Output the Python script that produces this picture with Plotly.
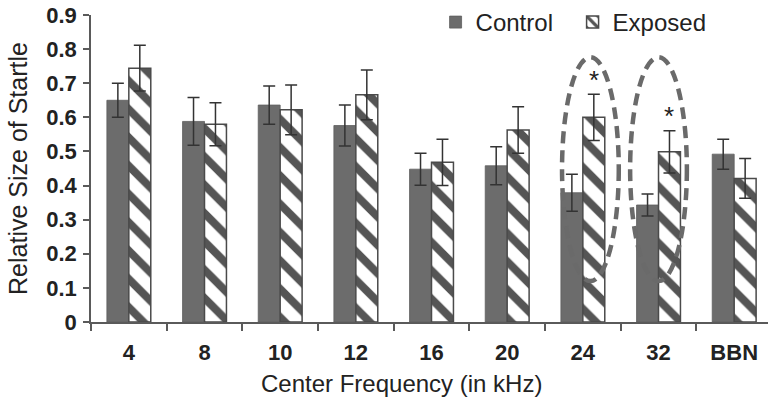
import plotly.graph_objects as go

# Startle response by centre frequency, control vs noise-exposed
categories = ["4", "8", "10", "12", "16", "20", "24", "32", "BBN"]
control = [0.65, 0.588, 0.636, 0.576, 0.448, 0.458, 0.379, 0.343, 0.492]
control_err = [0.05, 0.07, 0.056, 0.06, 0.047, 0.056, 0.054, 0.032, 0.044]
exposed = [0.744, 0.58, 0.622, 0.666, 0.468, 0.563, 0.600, 0.499, 0.421]
exposed_err = [0.067, 0.063, 0.073, 0.073, 0.068, 0.068, 0.068, 0.062, 0.058]
significant = ["24", "32"]
y_ticks = [0, 0.1, 0.2, 0.3, 0.4, 0.5, 0.6, 0.7, 0.8, 0.9]

FONT = "Liberation Sans, Arial, sans-serif"
BAR_GAP = 0.42
AXIS_COLOR = "#5a5a5a"

fig = go.Figure()
fig.add_trace(go.Bar(
    name="Control", x=categories, y=control,
    marker=dict(color="#6c6c6c", line=dict(color="#5e5e5e", width=0.8)),
    error_y=dict(type="data", array=control_err, color="#333333", thickness=1.5, width=6),
))
fig.add_trace(go.Bar(
    name="Exposed", x=categories, y=exposed,
    marker=dict(
        color="white",
        line=dict(color="#4a4a4a", width=1.5),
        pattern=dict(shape="\\", fgcolor="#555555", fgopacity=1, bgcolor="white",
                     size=20, solidity=0.4),
    ),
    error_y=dict(type="data", array=exposed_err, color="#333333", thickness=1.5, width=6),
))

# significance stars above the exposed bars, and dashed ovals round the pairs
half_bar = (1 - BAR_GAP) / 4
oval_shift = {"24": 0.1, "32": 0.0}
for cat in significant:
    i = categories.index(cat)
    fig.add_annotation(
        x=i + half_bar, y=exposed[i] + exposed_err[i] + 0.042, xref="x", yref="y",
        text="*", showarrow=False, yanchor="middle",
        font=dict(family=FONT, size=26, color="#222222"),
    )
    fig.add_shape(
        type="circle", xref="x", yref="y", layer="above",
        x0=i + oval_shift[cat] - 0.375, x1=i + oval_shift[cat] + 0.375,
        y0=0.12, y1=0.776,
        line=dict(color="#6a6a6a", width=4.5, dash="12px,7px"),
    )

fig.add_annotation(
    text="Center Frequency (in kHz)", xref="paper", yref="paper",
    x=0.459, y=-0.199, xanchor="center", yanchor="middle", showarrow=False,
    font=dict(family=FONT, size=24, color="#222222"),
)

fig.update_layout(
    width=768, height=398,
    margin=dict(l=91, r=0, t=15, b=76, autoexpand=False),
    paper_bgcolor="white", plot_bgcolor="white",
    barmode="group", bargap=BAR_GAP, bargroupgap=0,
    font=dict(family=FONT, color="#222222"),
    showlegend=True,
    legend=dict(
        orientation="h", xref="paper", x=0.509, xanchor="left",
        yref="container", y=1.0, yanchor="top",
        font=dict(family=FONT, size=24, color="#222222"),
        bgcolor="rgba(0,0,0,0)", itemwidth=30, entrywidth=92,
    ),
)
fig.update_xaxes(
    type="category", range=[-0.5, 8.447],
    showline=True, linecolor=AXIS_COLOR, linewidth=1.5,
    ticks="outside", tickson="boundaries", ticklen=7, tickcolor=AXIS_COLOR, tickwidth=1.5,
    tickfont=dict(family=FONT, size=22, color="#222222", weight="bold"),
    ticklabelstandoff=10, showgrid=False, zeroline=False,
)
fig.update_yaxes(
    range=[0, 0.9], tickvals=y_ticks, ticktext=[f"{v:g}" for v in y_ticks],
    showline=True, linecolor=AXIS_COLOR, linewidth=1.5,
    ticks="outside", ticklen=6, tickcolor=AXIS_COLOR, tickwidth=1.5,
    tickfont=dict(family=FONT, size=22, color="#222222", weight="bold"),
    ticklabelstandoff=2, showgrid=False, zeroline=False,
    title=dict(text="Relative Size of Startle", standoff=12,
               font=dict(family=FONT, size=25, color="#222222")),
)

fig.write_html("out.html")
